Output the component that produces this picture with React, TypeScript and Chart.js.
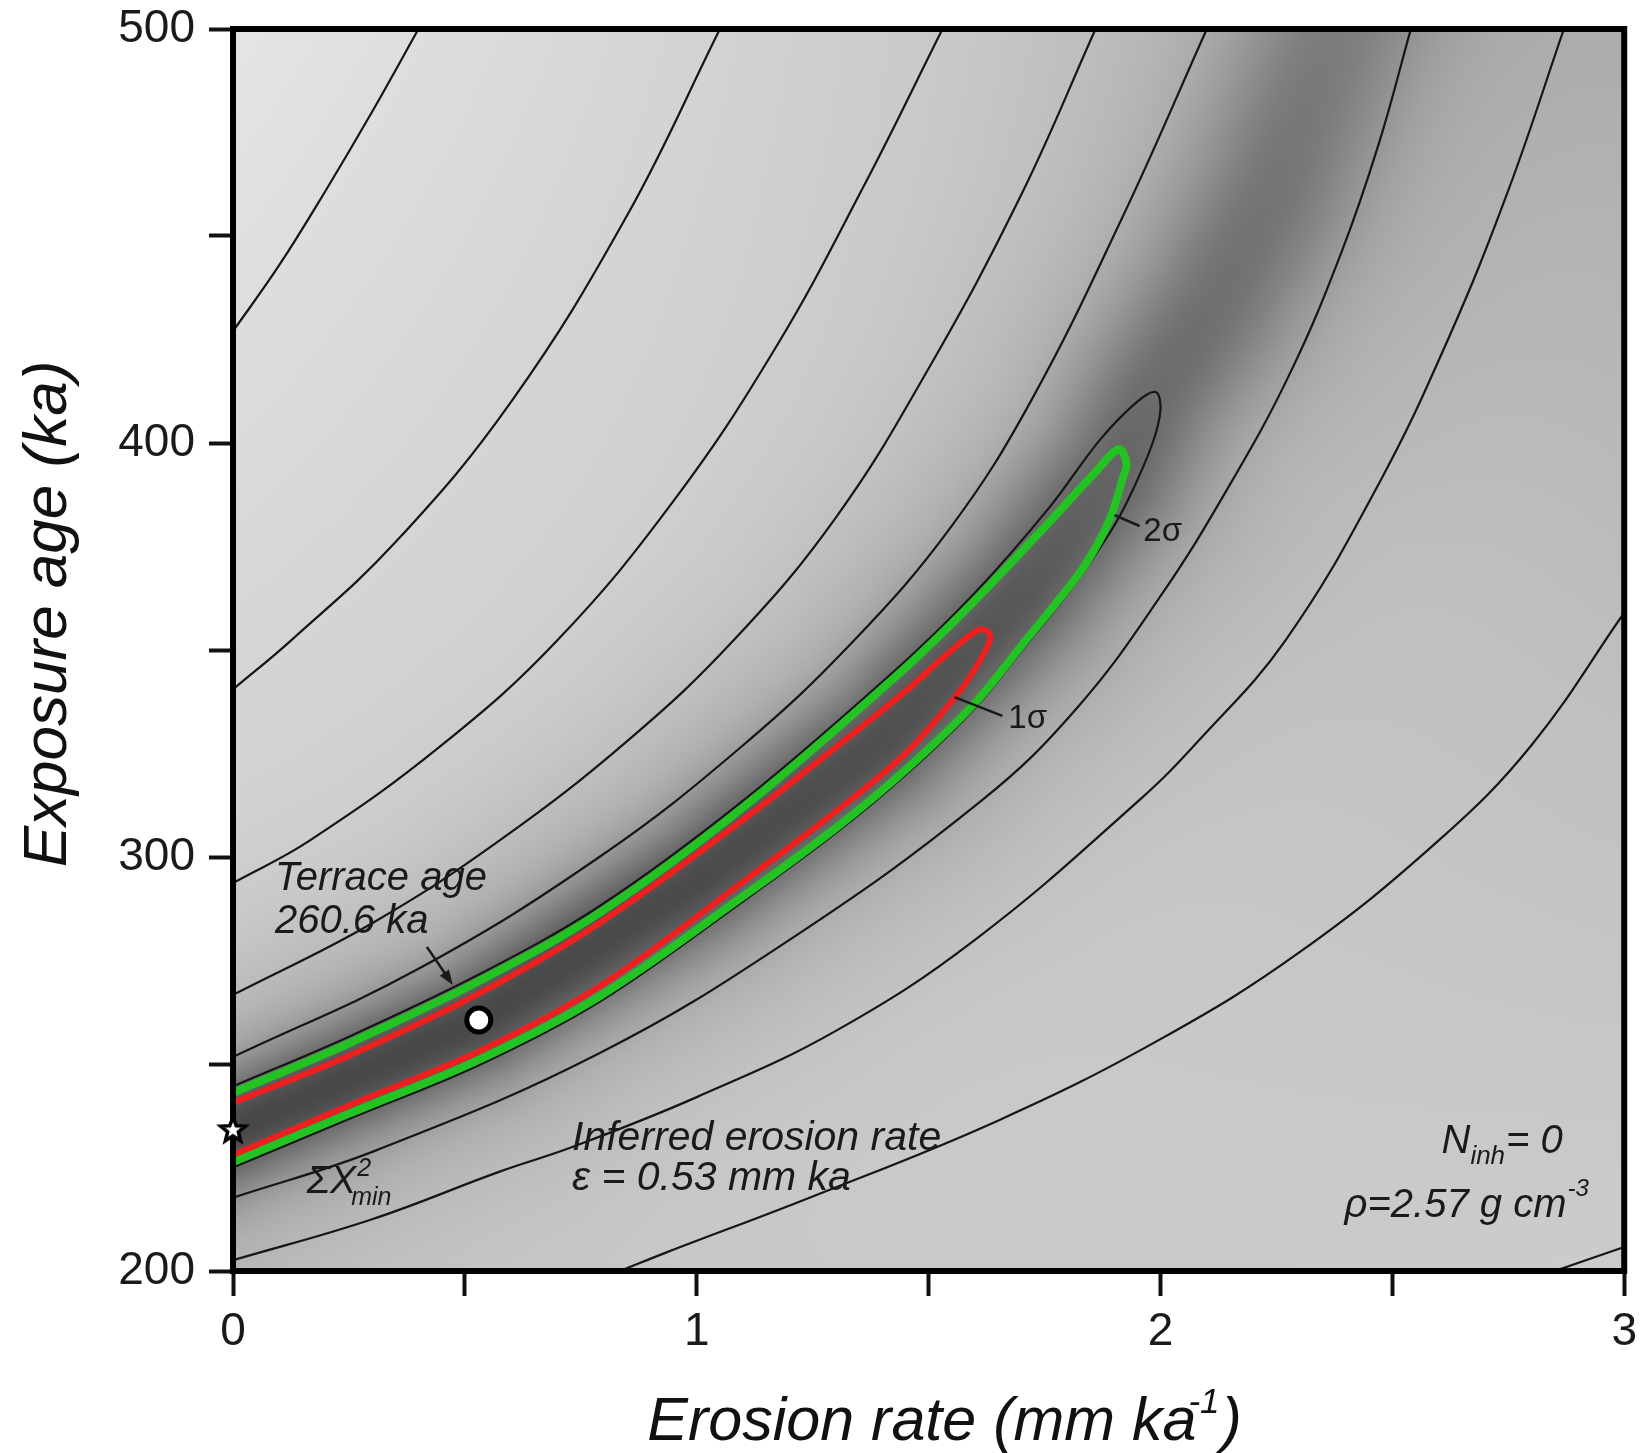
import React, { useEffect, useRef } from "react";
import { Chart, registerables } from "chart.js";

Chart.register(...registerables);

const FONT = "'Liberation Sans', Arial, Helvetica, sans-serif";

// ---------- axes ----------
const xMajorTicks = [0, 1, 2, 3];
const yMajorTicks = [200, 300, 400, 500];

// ---------- chi-square contour lines: [erosion rate (mm/ka), exposure age (ka)] ----------
const contourC1 = [[0, 427], [0.1, 443], [0.2, 461], [0.3, 480], [0.4, 500]];
const contourC2 = [[0, 340.5], [0.126, 352.4], [0.35, 376], [0.6, 410], [0.85, 455], [1.05, 500]];
const contourC3 = [[0, 293.7], [0.166, 304], [0.45, 327], [0.7, 352.4], [0.95, 386], [1.17, 423], [1.36, 462], [1.53, 500]];
const contourC4 = [[0, 266.7], [0.3, 284], [0.575, 304], [0.85, 328], [1.08, 352.4], [1.3, 382], [1.5, 418], [1.7, 460], [1.86, 500]];
const contourC5 = [[0, 251.7], [0.4, 273], [0.79, 300], [1.1, 327], [1.34, 352.4], [1.55, 380], [1.72, 410], [1.92, 455], [2.1, 500]];
const contourL1 = [[0, 217.7], [0.31, 229.2], [0.79, 252.6], [1.2, 280], [1.616, 313.8], [1.82, 336], [2.0, 363], [2.15, 390], [2.28, 417], [2.39, 446], [2.47, 472], [2.54, 500]];
const contourL2 = [[0, 202.6], [0.3, 212.5], [0.575, 224], [0.733, 230], [1.0, 242], [1.3, 258], [1.6, 280], [1.955, 313.8], [2.084, 328.3], [2.27, 352.4], [2.47, 390], [2.62, 425], [2.75, 461], [2.87, 500]];
const contourL3 = [[0.835, 200], [0.935, 204.5], [1.25, 218], [1.653, 236.5], [2.0, 256], [2.3, 277], [2.6, 304], [2.8, 327], [3.0, 359]];
const contourL4 = [[2.85, 200], [3.0, 205.8]];

// ---------- confidence envelopes ----------
const sigma2Black = [[0, 244.6], [0.25, 256.6], [0.53, 271.6], [0.79, 288.1], [1.1, 313.6], [1.437, 346], [1.6, 363.8], [1.761, 384.5], [1.869, 400.7], [1.95, 410], [1.99, 412.3], [2.0, 408], [1.983, 400], [1.94, 388.6], [1.9, 380], [1.84, 369.8], [1.78, 360.8], [1.71, 351.2], [1.6, 336], [1.45, 319.8], [1.3, 305.8], [1.1, 289.3], [0.79, 265], [0.53, 249.7], [0.25, 236.7], [0, 225]];
const sigma2Green = [[0, 243], [0.25, 255], [0.53, 270], [0.79, 286.5], [1.1, 312], [1.437, 344.4], [1.6, 362], [1.761, 381], [1.86, 393], [1.91, 398.5], [1.927, 395], [1.92, 392], [1.89, 381.4], [1.84, 371], [1.78, 362], [1.71, 352.4], [1.6, 337.2], [1.45, 321], [1.3, 307], [1.1, 290.5], [0.79, 266.3], [0.53, 251], [0.25, 238], [0, 226.3]];
const sigma1Red = [[0, 240.6], [0.25, 252], [0.53, 267], [0.79, 284], [1.1, 309], [1.3, 326.5], [1.45, 340], [1.53, 348], [1.606, 354.8], [1.627, 354.5], [1.633, 352.4], [1.595, 344.5], [1.552, 337.9], [1.45, 325], [1.3, 311], [1.1, 294], [0.79, 268.7], [0.53, 253], [0.25, 240], [0, 228]];

// ---------- chi-square valley (darkest ridge of the misfit surface) ----------
const valleyPath = [[0, 234], [0.53, 260.6], [1.0, 294], [1.4, 328], [1.7, 363], [1.9, 392], [1.99, 412], [2.12, 434], [2.24, 460], [2.31, 480], [2.38, 500]];

// ---------- markers ----------
const terraceAge = [[0.53, 260.6]];
const chiSquareMin = [[0, 234]];

// shading styling (gray levels / widths along the valley)
const SHADE_CORE = [72, 72, 75, 79, 88, 100, 108, 112, 116, 120, 124];
const SHADE_SIGMA = [55, 58, 62, 66, 70, 74, 76, 80, 84, 86, 88];
const BASE_TL = 229, BASE_TR = 176, BASE_BL = 198, BASE_BR = 204;

function makeStar() {
  const c = document.createElement("canvas");
  c.width = 34;
  c.height = 34;
  const g = c.getContext("2d") as CanvasRenderingContext2D;
  g.translate(17, 17);
  g.beginPath();
  for (let i = 0; i < 10; i++) {
    const r = i % 2 === 0 ? 13 : 5.6;
    const ang = -Math.PI / 2 + (i * Math.PI) / 5;
    const px = r * Math.cos(ang), py = r * Math.sin(ang);
    if (i === 0) g.moveTo(px, py); else g.lineTo(px, py);
  }
  g.closePath();
  g.fillStyle = "#fff";
  g.fill();
  g.lineWidth = 3.5;
  g.strokeStyle = "#000";
  g.stroke();
  return c;
}

const shadePlugin: any = {
  id: "shade",
  beforeDatasetsDraw(chart: any) {
    const { ctx, chartArea: a } = chart;
    const xs = chart.scales.x, ys = chart.scales.y;
    const pts = valleyPath.map(([vx, vy]) => [xs.getPixelForValue(vx), ys.getPixelForValue(vy)]);
    const ext = (p0: number[], p1: number[]) => {
      const dx = p0[0] - p1[0], dy = p0[1] - p1[1];
      const L = Math.hypot(dx, dy) || 1;
      return [p0[0] + (dx / L) * 400, p0[1] + (dy / L) * 400];
    };
    const P = [ext(pts[0], pts[1]), ...pts, ext(pts[pts.length - 1], pts[pts.length - 2])];
    const core = [SHADE_CORE[0], ...SHADE_CORE, SHADE_CORE[SHADE_CORE.length - 1]];
    const sig = [SHADE_SIGMA[0], ...SHADE_SIGMA, SHADE_SIGMA[SHADE_SIGMA.length - 1]];
    const step = 2;
    const W = Math.ceil((a.right - a.left) / step), H = Math.ceil((a.bottom - a.top) / step);
    const off = document.createElement("canvas");
    off.width = W;
    off.height = H;
    const octx = off.getContext("2d") as CanvasRenderingContext2D;
    const img = octx.createImageData(W, H);
    const d = img.data;
    for (let j = 0; j < H; j++) {
      const py = a.top + (j + 0.5) * step;
      const v = (a.bottom - py) / (a.bottom - a.top);
      for (let i = 0; i < W; i++) {
        const px = a.left + (i + 0.5) * step;
        const u = (px - a.left) / (a.right - a.left);
        const base = (1 - u) * (1 - v) * BASE_BL + u * (1 - v) * BASE_BR + (1 - u) * v * BASE_TL + u * v * BASE_TR;
        let best = 1e18, bt = 0;
        for (let k = 0; k < P.length - 1; k++) {
          const ax = P[k][0], ay = P[k][1];
          const ex = P[k + 1][0] - ax, ey = P[k + 1][1] - ay;
          const l2 = ex * ex + ey * ey;
          let s = ((px - ax) * ex + (py - ay) * ey) / l2;
          s = s < 0 ? 0 : s > 1 ? 1 : s;
          const qx = ax + s * ex - px, qy = ay + s * ey - py;
          const dd = qx * qx + qy * qy;
          if (dd < best) { best = dd; bt = k + s; }
        }
        const k0 = Math.min(Math.floor(bt), P.length - 2);
        const f0 = bt - k0;
        const c = core[k0] * (1 - f0) + core[k0 + 1] * f0;
        const sg = sig[k0] * (1 - f0) + sig[k0 + 1] * f0;
        const r2 = best / (sg * sg);
        const f = 0.72 * Math.exp(-r2) + 0.28 * Math.exp(-r2 / 6.5);
        const gray = base - (base - c) * f;
        const idx = (j * W + i) * 4;
        d[idx] = gray; d[idx + 1] = gray; d[idx + 2] = gray; d[idx + 3] = 255;
      }
    }
    octx.putImageData(img, 0, 0);
    ctx.save();
    ctx.imageSmoothingEnabled = true;
    ctx.drawImage(off, a.left, a.top, a.right - a.left, a.bottom - a.top);
    ctx.restore();
  },
};

function drawArrow(ctx: CanvasRenderingContext2D, x0: number, y0: number, x1: number, y1: number) {
  const ang = Math.atan2(y1 - y0, x1 - x0);
  const hl = 15, hw = 5.5;
  ctx.beginPath();
  ctx.moveTo(x0, y0);
  ctx.lineTo(x1 - Math.cos(ang) * hl * 0.8, y1 - Math.sin(ang) * hl * 0.8);
  ctx.lineWidth = 2.5;
  ctx.stroke();
  ctx.beginPath();
  ctx.moveTo(x1, y1);
  ctx.lineTo(x1 - Math.cos(ang) * hl - Math.sin(ang) * hw, y1 - Math.sin(ang) * hl + Math.cos(ang) * hw);
  ctx.lineTo(x1 - Math.cos(ang) * hl + Math.sin(ang) * hw, y1 - Math.sin(ang) * hl - Math.cos(ang) * hw);
  ctx.closePath();
  ctx.fill();
}

const annotPlugin: any = {
  id: "annot",
  afterDatasetDraw(chart: any, args: any) {
    // frame drawn right after the red envelope, before the markers
    if (args.index !== chart.$frameIndex) return;
    const { ctx, chartArea: a } = chart;
    ctx.save();
    ctx.lineWidth = 6;
    ctx.strokeStyle = "#000";
    ctx.strokeRect(a.left, a.top, a.right - a.left, a.bottom - a.top);
    ctx.restore();
  },
  afterDraw(chart: any) {
    const { ctx, chartArea: a } = chart;
    const xs = chart.scales.x, ys = chart.scales.y;
    const P = (vx: number, vy: number) => [xs.getPixelForValue(vx), ys.getPixelForValue(vy)];
    const font = (size: number, italic = true) => `${italic ? "italic " : ""}${size}px ${FONT}`;
    ctx.save();
    ctx.fillStyle = "#1a1a1a";
    ctx.strokeStyle = "#1a1a1a";
    ctx.textBaseline = "alphabetic";
    ctx.textAlign = "left";

    // Terrace age
    ctx.font = font(40);
    let [tx, ty] = P(0.0905, 292.0);
    ctx.fillText("Terrace age", tx, ty);
    [tx, ty] = P(0.0905, 281.6);
    ctx.fillText("260.6 ka", tx, ty);
    const [ax0, ay0] = P(0.418, 278.3);
    const [ax1, ay1] = P(0.474, 269.1);
    drawArrow(ctx, ax0, ay0, ax1, ay1);

    // Sigma chi^2 min
    [tx, ty] = P(0.159, 218.8);
    ctx.font = font(39);
    ctx.fillText("ΣX", tx, ty);
    let w = ctx.measureText("ΣX").width;
    ctx.font = font(25);
    ctx.fillText("2", tx + w + 1, ty - 17);
    ctx.fillText("min", tx + w - 5, ty + 12);

    // Inferred erosion rate
    ctx.font = font(41);
    [tx, ty] = P(0.731, 229.2);
    ctx.fillText("Inferred erosion rate", tx, ty);
    [tx, ty] = P(0.731, 219.6);
    ctx.fillText("ε = 0.53 mm ka", tx, ty);

    // N_inh = 0
    [tx, ty] = P(2.606, 228.5);
    ctx.font = font(40);
    ctx.fillText("N", tx, ty);
    w = ctx.measureText("N").width;
    ctx.font = font(26);
    ctx.fillText("inh", tx + w, ty + 11);
    const ws = ctx.measureText("inh").width;
    ctx.font = font(40);
    ctx.fillText("= 0", tx + w + ws + 1, ty);

    // density
    [tx, ty] = P(2.397, 213.0);
    ctx.font = font(40);
    ctx.fillText("ρ=2.57 g cm", tx, ty);
    w = ctx.measureText("ρ=2.57 g cm").width;
    ctx.font = font(24);
    ctx.fillText("-3", tx + w + 1, ty - 21);

    // sigma labels with leaders
    ctx.lineWidth = 2.5;
    let [l0x, l0y] = P(1.556, 338.6);
    let [l1x, l1y] = P(1.659, 334.1);
    ctx.beginPath(); ctx.moveTo(l0x, l0y); ctx.lineTo(l1x, l1y); ctx.stroke();
    ctx.font = font(33, false);
    [tx, ty] = P(1.672, 331.2);
    ctx.fillText("1σ", tx, ty);
    [l0x, l0y] = P(1.901, 382.6);
    [l1x, l1y] = P(1.955, 379.95);
    ctx.beginPath(); ctx.moveTo(l0x, l0y); ctx.lineTo(l1x, l1y); ctx.stroke();
    [tx, ty] = P(1.963, 376.4);
    ctx.fillText("2σ", tx, ty);

    // axis titles
    ctx.fillStyle = "#111";
    const TS = 61;
    const xt1 = "Erosion rate (mm ka";
    ctx.font = font(TS);
    const w1 = ctx.measureText(xt1).width;
    ctx.font = font(35);
    const wsup = ctx.measureText("-1").width;
    ctx.font = font(TS);
    const w3 = ctx.measureText(")").width;
    const total = w1 + wsup - 6 + w3;
    const cx = (a.left + a.right) / 2 + 16 - total / 2;
    const by = a.bottom + 169;
    ctx.fillText(xt1, cx, by);
    ctx.font = font(35);
    ctx.fillText("-1", cx + w1 - 8, by - 27);
    ctx.font = font(TS);
    ctx.fillText(")", cx + w1 + wsup - 6, by);

    ctx.save();
    ctx.translate(a.left - 167, (a.top + a.bottom) / 2 - 36);
    ctx.rotate(-Math.PI / 2);
    ctx.textAlign = "center";
    ctx.font = font(62);
    ctx.fillText("Exposure age (ka)", 0, 0);
    ctx.restore();

    ctx.restore();
  },
};

export default function App() {
  const canvasRef = useRef<HTMLCanvasElement | null>(null);
  useEffect(() => {
    const canvas = canvasRef.current;
    if (!canvas) return;
    const toXY = (arr: number[][]) => arr.map(([x, y]) => ({ x, y }));
    const contours = [contourC1, contourC2, contourC3, contourC4, contourC5, contourL1, contourL2, contourL3, contourL4];
    const lineDs = (data: number[][], color: string, width: number, order: number, tension: number) => ({
      data: toXY(data),
      showLine: true,
      borderColor: color,
      borderWidth: width,
      pointRadius: 0,
      pointHoverRadius: 0,
      tension,
      order,
      fill: false,
    });
    const datasets: any[] = [
      ...contours.map((c) => lineDs(c, "#161616", 2.2, 10, 0.4)),
      lineDs(sigma2Black, "#161616", 2.2, 6, 0.35),
      lineDs(sigma2Green, "#22c322", 8, 5, 0.35),
      lineDs(sigma1Red, "#f01f1f", 6, 4, 0.35),
      {
        data: toXY(terraceAge), showLine: false, pointRadius: 12, pointBackgroundColor: "#ffffff",
        pointBorderColor: "#000000", pointBorderWidth: 5, order: 1, clip: false,
      },
      {
        data: toXY(chiSquareMin), showLine: false, pointStyle: makeStar(), pointRadius: 13, order: 0, clip: false,
      },
    ];
    const isMajor = (v: number, majors: number[]) => majors.some((m) => Math.abs(m - v) < 1e-6);
    const chart: any = new Chart(canvas, {
      type: "scatter",
      data: { datasets },
      plugins: [shadePlugin, annotPlugin],
      options: {
        animation: false,
        responsive: false,
        devicePixelRatio: 1,
        events: [],
        layout: { padding: { top: 29, right: 21, left: 0, bottom: 0 } },
        plugins: { legend: { display: false }, tooltip: { enabled: false } },
        scales: {
          x: {
            type: "linear", min: 0, max: 3,
            ticks: {
              stepSize: 0.5, autoSkip: false, maxRotation: 0, padding: 9, color: "#1a1a1a",
              font: { family: FONT, size: 46 },
              callback: (v: any) => (isMajor(Number(v), xMajorTicks) ? String(Math.round(Number(v))) : ""),
            },
            grid: { drawOnChartArea: false, drawTicks: true, tickLength: 25, tickWidth: 4, tickColor: "#111" },
            border: { display: false },
            afterFit: (s: any) => { s.height = 182; },
          },
          y: {
            type: "linear", min: 200, max: 500,
            ticks: {
              stepSize: 50, autoSkip: false, padding: 14, color: "#1a1a1a",
              font: { family: FONT, size: 46, lineHeight: 0.4 },
              callback: (v: any) => (isMajor(Number(v), yMajorTicks) ? String(Math.round(Number(v))) : ""),
            },
            grid: { drawOnChartArea: false, drawTicks: true, tickLength: 24, tickWidth: 4, tickColor: "#111" },
            border: { display: false },
            afterFit: (s: any) => { s.width = 233; },
          },
        },
      } as any,
    });
    chart.$frameIndex = contours.length + 2;
    chart.draw();
    return () => chart.destroy();
  }, []);
  return (
    <div style={{ position: "absolute", left: 0, top: 0, width: 1646, height: 1453, background: "#fff" }}>
      <canvas ref={canvasRef} width={1646} height={1453} style={{ display: "block", width: 1646, height: 1453 }} />
    </div>
  );
}
